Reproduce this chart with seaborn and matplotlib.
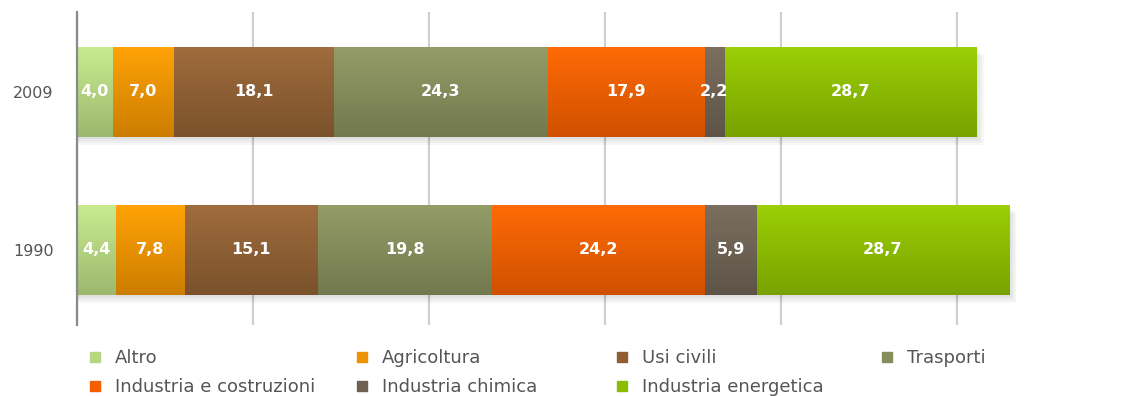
import numpy as np
import pandas as pd
import matplotlib
matplotlib.use("Agg")
import matplotlib.pyplot as plt
import matplotlib.colors as mcolors
from matplotlib.lines import Line2D
import seaborn as sns

years = ["2009", "1990"]
categories = ["Altro", "Agricoltura", "Usi civili", "Trasporti",
              "Industria e costruzioni", "Industria chimica", "Industria energetica"]
values_2009 = [4.0, 7.0, 18.1, 24.3, 17.9, 2.2, 28.7]
values_1990 = [4.4, 7.8, 15.1, 19.8, 24.2, 5.9, 28.7]
colors = ["#b6d680", "#ee9200", "#8f5f33", "#848d5b", "#f25e00", "#6d6253", "#8cbc00"]

sns.set_theme(style="white")
plt.rcParams["font.family"] = ["DejaVu Sans"]

df = pd.DataFrame({"year": years})
for cat, v09, v90 in zip(categories, values_2009, values_1990):
    df[cat] = [v09, v90]
cum = df[categories].cumsum(axis=1)

fig = plt.figure(figsize=(11.21, 3.96), dpi=100)
ax = fig.add_axes([77 / 1121, 1 - 325 / 396, (1121 - 77) / 1121 * 0.995, (325 - 12) / 396])

bar_h = 0.57
# stack by overdrawing cumulative totals, widest first
layers = []
for k, cat in enumerate(reversed(categories)):
    i = categories.index(cat)
    before = len(ax.patches)
    sns.barplot(data=cum, x=cat, y=df["year"], orient="h", color=colors[i],
                width=bar_h, saturation=1, ax=ax, zorder=3 + k * 0.1, linewidth=0)
    layers.append((i, ax.patches[before:]))

# vertical shading on each bar segment
for i, patches in layers:
    base = np.array(mcolors.to_rgb(colors[i]))
    top = np.clip(base * 1.07 + 0.025, 0, 1)
    bot = base * 0.86
    grad = np.linspace(0, 1, 64)[:, None, None]
    img = top[None, None, :] * (1 - grad) + bot[None, None, :] * grad
    for p in patches:
        x0, y0 = p.get_x(), p.get_y()
        w, h = p.get_width(), p.get_height()
        im = ax.imshow(img, extent=(x0, x0 + w, y0 + h, y0), aspect="auto",
                       zorder=p.get_zorder() + 0.05, interpolation="bilinear")
        im.set_clip_path(p)

# soft drop shadow under the full bars
for j, total in enumerate(cum[categories[-1]]):
    for s in range(4):
        ax.barh(j + 0.012 * (s + 1), total + 0.2 * (s + 1), height=bar_h, left=0,
                color="black", alpha=0.03, zorder=2, linewidth=0)

# value labels centred in each segment
for j in range(len(years)):
    left = 0.0
    for i, cat in enumerate(categories):
        v = df.loc[j, cat]
        ax.text(left + v / 2, j, f"{v:.1f}".replace(".", ","), ha="center", va="center",
                color="white", fontsize=11.5, fontweight="bold", zorder=10)
        left += v

ax.set_xlim(0, 118)
ax.set_ylim(1.475, -0.506)
ax.set_xticks([0, 20, 40, 60, 80, 100])
ax.set_xticklabels([])
ax.xaxis.grid(True, color="#cfcfcf", linewidth=1.6)
ax.set_axisbelow(True)
ax.set_xlabel("")
ax.set_ylabel("")
ax.tick_params(axis="y", length=0, pad=17, labelsize=11.5, labelcolor="#555555")
ax.tick_params(axis="x", length=0)
for side in ["top", "right", "bottom"]:
    ax.spines[side].set_visible(False)
ax.spines["left"].set_color("#8a8a8a")
ax.spines["left"].set_linewidth(1.6)
ax.spines["left"].set_zorder(6)

# legend laid out in four evenly spaced columns
columns = [[0, 4], [1, 5], [2, 6], [3]]
col_x = [90, 357, 617, 882]
for cx, idx in zip(col_x, columns):
    handles = [Line2D([], [], marker="s", linestyle="none", markersize=7.5,
                      markerfacecolor=colors[i], markeredgecolor=colors[i]) for i in idx]
    labels = [categories[i] for i in idx]
    fig.legend(handles, labels, loc="upper left", bbox_to_anchor=(cx / 1121, 1 - 349 / 396),
               frameon=False, fontsize=13, handlelength=0.55, handletextpad=0.85,
               borderpad=0, borderaxespad=0, labelspacing=0.6, labelcolor="#555555")

fig.savefig("out.png", dpi=100)
